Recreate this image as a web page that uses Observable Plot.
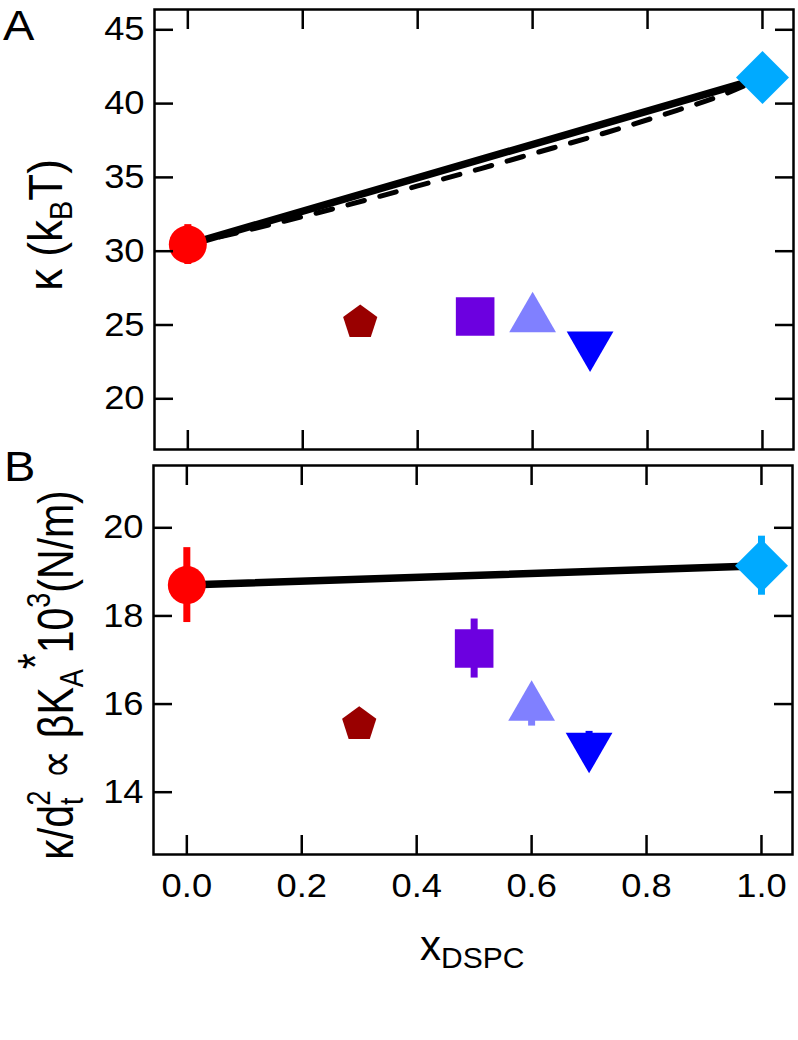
<!DOCTYPE html>
<html><head><meta charset="utf-8">
<script src="https://cdn.jsdelivr.net/npm/d3@7"></script>
<script src="https://cdn.jsdelivr.net/npm/@observablehq/plot@0.6"></script>
<style>
html,body{margin:0;padding:0;background:#fff;}
#chart{position:relative;width:798px;height:1040px;font-family:"Liberation Sans",Arial,sans-serif;}
#chart svg{position:absolute;left:0;overflow:visible;}
</style></head><body><div id="chart"></div>
<script>
// ---- data ----
const xDSPC      = [0.0, 0.3, 0.5, 0.6, 0.7, 1.0];
const kappa      = [30.45, 25.17, 25.58, 25.43, 23.65, 41.76];
const kappaErr   = [1.35, 0, 0, 0, 0, 0];
const kdt2       = [18.70, 15.54, 17.26, 15.93, 15.04, 19.14];
const kdt2Err    = [0.85, 0, 0.67, 0.43, 0.34, 0.67];
const markerColors = ["#ff0000", "#990000", "#6c00e0", "#8080ff", "#0000ff", "#00aaff"];
const markerShapes = ["circle", "pentagon", "square", "triangleUp", "triangleDown", "diamond"];
const lineX      = [0.0, 1.0];
const solidKappa = [30.45, 41.76];
const solidKdt2  = [18.70, 19.14];
const dashX      = [0.0, 0.1, 0.23, 0.4, 0.51, 0.6, 0.73, 0.85, 0.92, 1.0];
const dashKappa  = [30.45, 31.38, 32.64, 34.42, 35.60, 36.60, 38.06, 39.53, 40.43, 41.76];
const xTicks  = [0.0, 0.2, 0.4, 0.6, 0.8, 1.0];
const yTicksA = [20, 25, 30, 35, 40, 45];
const yTicksB = [14, 16, 18, 20];

// ---- marker shapes (custom symbols, size = PI r^2) ----
const rad = s => Math.sqrt(s / Math.PI);
const poly = (c, pts) => { c.moveTo(pts[0][0], pts[0][1]); for (const p of pts.slice(1)) c.lineTo(p[0], p[1]); c.closePath(); };
const symbols = {
  circle: {r: 19, s: {draw(c, size) { const r = rad(size); c.moveTo(r, 0); c.arc(0, 0, r, 0, 2 * Math.PI); }}},
  square: {r: 19.3, s: {draw(c, size) { const r = rad(size); poly(c, [[-r,-r],[r,-r],[r,r],[-r,r]]); }}},
  diamond: {r: 26.5, s: {draw(c, size) { const r = rad(size); poly(c, [[0,-r],[r,0],[0,r],[-r,0]]); }}},
  triangleUp: {r: 27, s: {draw(c, size) { const r = rad(size), h = r * Math.sqrt(3) / 2; poly(c, [[0,-r],[h,r/2],[-h,r/2]]); }}},
  triangleDown: {r: 27, s: {draw(c, size) { const r = rad(size), h = r * Math.sqrt(3) / 2; poly(c, [[0,r],[h,-r/2],[-h,-r/2]]); }}},
  pentagon: {r: 18, s: {draw(c, size) { const r = rad(size); poly(c, d3.range(5).map(i => { const a = -Math.PI/2 + i * 2 * Math.PI / 5; return [r*Math.cos(a), r*Math.sin(a)]; })); }}}
};

const ptsA = xDSPC.map((x, i) => ({x, y: kappa[i], e: kappaErr[i], color: markerColors[i], shape: markerShapes[i]}));
const ptsB = xDSPC.map((x, i) => ({x, y: kdt2[i], e: kdt2Err[i], color: markerColors[i], shape: markerShapes[i]}));

const font = '"Liberation Sans", Arial, Helvetica, sans-serif';
const tickFont = 33;

function panel({height, marginLeft, marginRight, marginTop, marginBottom, yDomain, yTicks, pts, lines, xLabels}) {
  const marks = [];
  for (const l of lines) marks.push(Plot.line(l.data, {x: "x", y: "y", stroke: "black", strokeWidth: l.w, strokeDasharray: l.dash, curve: l.curve || "linear"}));
  marks.push(Plot.ruleX(pts.filter(d => d.e > 0), {x: "x", y1: d => d.y - d.e, y2: d => d.y + d.e, stroke: "color", strokeWidth: 7}));
  for (const p of pts) {
    const s = symbols[p.shape];
    marks.push(Plot.dot([p], {x: "x", y: "y", r: s.r, symbol: s.s, fill: p.color, stroke: "none"}));
  }
  marks.push(Plot.frame({stroke: "black", strokeWidth: 2.5}));
  const blank = () => "";
  marks.push(Plot.axisY({ticks: yTicks, anchor: "left", tickSize: 0, tickPadding: 10, label: null, fontSize: tickFont}));
  marks.push(Plot.axisY({ticks: yTicks, anchor: "left", tickSize: -19, strokeWidth: 2.5, tickFormat: blank, label: null}));
  marks.push(Plot.axisY({ticks: yTicks, anchor: "right", tickSize: -19, strokeWidth: 2.5, tickFormat: blank, label: null}));
  marks.push(Plot.axisX({ticks: xTicks, anchor: "top", tickSize: -19, strokeWidth: 2.5, tickFormat: blank, label: null}));
  marks.push(Plot.axisX({ticks: xTicks, anchor: "bottom", tickSize: -19, strokeWidth: 2.5, tickFormat: blank, label: null}));
  if (xLabels) marks.push(Plot.axisX({ticks: xTicks, anchor: "bottom", tickSize: 0, tickPadding: 19, tickFormat: d3.format(".1f"), label: null, fontSize: tickFont}));
  return Plot.plot({
    width: 798, height, marginLeft, marginRight, marginTop, marginBottom,
    x: {domain: [-0.058, 1.054]},
    y: {domain: yDomain},
    color: {type: "identity"},
    style: {fontFamily: font, fontSize: "29px", color: "black", background: "white", overflow: "visible"},
    marks
  });
}

const svgA = panel({
  height: 460, marginLeft: 154, marginRight: 5, marginTop: 9, marginBottom: 11,
  yDomain: [16.565, 46.375], yTicks: yTicksA, pts: ptsA, xLabels: false,
  lines: [
    {data: dashX.map((x, i) => ({x, y: dashKappa[i]})), w: 5, dash: "17,16", curve: "monotone-x"},
    {data: lineX.map((x, i) => ({x, y: solidKappa[i]})), w: 7.5}
  ]
});
const svgB = panel({
  height: 580, marginLeft: 153, marginRight: 6, marginTop: 5, marginBottom: 186,
  yDomain: [12.586, 21.414], yTicks: yTicksB, pts: ptsB, xLabels: true,
  lines: [{data: lineX.map((x, i) => ({x, y: solidKdt2[i]})), w: 7.5}]
});
svgA.style.top = "0px";
svgB.style.top = "460px";
const chart = document.getElementById("chart");
chart.append(svgA, svgB);

// horizontally widen texts to match the reference lettering
function stretch(text, s) {
  const b = text.getBBox();
  const anchor = getComputedStyle(text).textAnchor;
  const ox = anchor === "end" ? b.x + b.width : anchor === "middle" ? b.x + b.width / 2 : b.x;
  const t = text.getAttribute("transform") || "";
  text.setAttribute("transform", `${t} translate(${ox},0) scale(${s},1) translate(${-ox},0)`);
}
for (const svg of [svgA, svgB]) {
  svg.querySelectorAll('g[aria-label$="tick label"] text').forEach(t => stretch(t, 1.1));
}

// panel letters
d3.select(svgA).append("text").attr("x", 3).attr("y", 40).attr("font-size", 42).attr("font-family", font)
  .attr("text-anchor", "start").text("A").each(function() { stretch(this, 1.12); });
d3.select(svgB).append("text").attr("x", 4).attr("y", 21).attr("font-size", 42).attr("font-family", font)
  .attr("text-anchor", "start").text("B").each(function() { stretch(this, 1.12); });

// y title A: κ (k_B T)
{
  const t = d3.select(svgA).append("text").attr("transform", "translate(62,225) rotate(-90) scale(1,1.08)")
    .attr("text-anchor", "middle").attr("font-size", 44).attr("font-family", font);
  t.append("tspan").text("κ (k");
  t.append("tspan").attr("font-size", 29).attr("dy", 9).text("B");
  t.append("tspan").attr("dy", -9).text("T)");
}
// y title B: κ/d_t^2 ∝ βK_A*10^3(N/m)
{
  const t = d3.select(svgB).append("text").attr("transform", "translate(73,215) rotate(-90) scale(1,1.22)")
    .attr("text-anchor", "middle").attr("font-size", 41).attr("font-family", font);
  t.append("tspan").text("κ/d");
  t.append("tspan").attr("font-size", 27).attr("dy", 8).text("t");
  t.append("tspan").attr("font-size", 27).attr("dx", -8).attr("dy", -27).text("2");
  t.append("tspan").attr("dy", 19).text(" ∝ βK");
  t.append("tspan").attr("font-size", 27).attr("dy", 8).text("A");
  t.append("tspan").attr("dy", -24).text("*");
  t.append("tspan").attr("dy", 16).text("10");
  t.append("tspan").attr("font-size", 27).attr("dy", -19).text("3");
  t.append("tspan").attr("dy", 19).text("(N/m)");
}
// x title: x_DSPC
{
  const t = d3.select(svgB).append("text").attr("x", 420).attr("y", 500).attr("font-family", font)
    .attr("text-anchor", "start");
  t.append("tspan").attr("font-size", 42).text("x");
  t.append("tspan").attr("font-size", 30).attr("dy", 8).text("DSPC");
}
</script></body></html>
